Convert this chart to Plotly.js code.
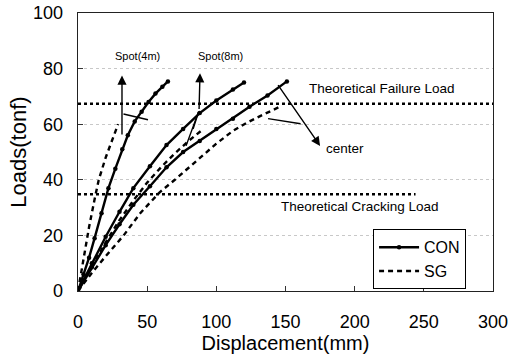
<!DOCTYPE html>
<html>
<head>
<meta charset="utf-8">
<script src="https://cdn.plot.ly/plotly-3.0.1.min.js"></script>
<style>html,body{margin:0;padding:0;background:#fff;}#chart{width:520px;height:354px;}</style>
</head>
<body>
<div id="chart"></div>
<script>
// Spot(4m)
const spot4ConX = [0, 4, 8, 12, 17, 22, 27, 32, 36, 41, 46, 51, 56, 61, 65];
const spot4ConY = [0, 6, 12, 19, 28, 37, 44, 51, 56, 61, 64.5, 68, 71, 73.5, 75.4];
const spot4SgX = [0, 4, 8, 12, 15, 20, 25, 29];
const spot4SgY = [0, 12, 23, 33, 40, 48, 55, 60];
// Spot(8m)
const spot8ConX = [0, 10, 20, 30, 40, 52, 64, 76, 88, 100, 112, 120];
const spot8ConY = [0, 10, 19.5, 28.5, 37, 44.9, 52.5, 58.3, 64, 68.5, 72.5, 75];
const spot8SgX = [0, 10, 20, 30, 40, 50, 60, 70, 80, 90];
const spot8SgY = [0, 9, 17.5, 25.5, 32.5, 39, 44.5, 49.5, 54, 58];
// center
const centerConX = [0, 10, 20, 30, 40, 52, 64, 76, 88, 100, 112, 124, 137, 151];
const centerConY = [0, 8.5, 16.5, 24, 31, 37.7, 44.5, 50, 54, 58.3, 62, 66.3, 70.3, 75.4];
const centerSgX = [0, 10, 20, 33, 45, 59, 70, 88, 100, 112, 122, 132, 146];
const centerSgY = [0, 6.5, 12.5, 20, 28, 35.5, 40, 48, 53, 57.6, 60.5, 63, 66.3];
// theoretical loads
const failureLoad = 67.4;
const failureRangeX = [0, 300];
const crackingLoad = 34.8;
const crackingRangeX = [0, 244];

const xTicks = [0, 50, 100, 150, 200, 250, 300];
const yTicks = [0, 20, 40, 60, 80, 100];

const conStyle = {mode: 'lines+markers', line: {color: '#000', width: 2.4}, marker: {color: '#000', size: 4.5}, legendgroup: 'con', name: 'CON'};
const sgStyle = {mode: 'lines', line: {color: '#000', width: 2.4, dash: '5px,4px'}, legendgroup: 'sg', name: 'SG'};

const traces = [
  Object.assign({x: spot4ConX, y: spot4ConY, showlegend: true}, conStyle),
  Object.assign({x: spot8ConX, y: spot8ConY, showlegend: false}, conStyle),
  Object.assign({x: centerConX, y: centerConY, showlegend: false}, conStyle),
  Object.assign({x: spot4SgX, y: spot4SgY, showlegend: true}, sgStyle),
  Object.assign({x: spot8SgX, y: spot8SgY, showlegend: false}, sgStyle),
  Object.assign({x: centerSgX, y: centerSgY, showlegend: false}, sgStyle),
  {x: failureRangeX, y: [failureLoad, failureLoad], mode: 'lines', line: {color: '#000', width: 2.5, dash: 'dot'}, showlegend: false, hoverinfo: 'skip'},
  {x: crackingRangeX, y: [crackingLoad, crackingLoad], mode: 'lines', line: {color: '#000', width: 2.5, dash: 'dot'}, showlegend: false, hoverinfo: 'skip'}
];

const annFont = {family: '"Liberation Sans", Arial, sans-serif', size: 13.5, color: '#000'};
const smallFont = {family: '"Liberation Sans", Arial, sans-serif', size: 11, color: '#000'};
function arrow(x, y, ax, ay, head) {
  return {x: x, y: y, ax: ax, ay: ay, xref: 'x', yref: 'y', axref: 'x', ayref: 'y', text: '', showarrow: true,
          arrowhead: head ? 2 : 0, arrowsize: 1.3, arrowwidth: 1.4, arrowcolor: '#000'};
}

const layout = {
  width: 520, height: 354,
  margin: {l: 78, r: 27, t: 13, b: 63},
  paper_bgcolor: '#fff', plot_bgcolor: '#fff',
  font: {family: '"Liberation Sans", Arial, sans-serif', color: '#000'},
  showlegend: true,
  legend: {x: 0.711, y: 0.222, xanchor: 'left', yanchor: 'top', bgcolor: '#fff', bordercolor: '#000', borderwidth: 1,
           font: {size: 16, family: '"Liberation Sans", Arial, sans-serif'}, tracegroupgap: 0, itemwidth: 40},
  xaxis: {range: [0, 300], tickvals: xTicks, ticks: 'inside', ticklen: 5, tickcolor: '#333',
          showline: true, linecolor: '#222', linewidth: 1.3, mirror: true, showgrid: false, zeroline: false,
          tickfont: {size: 18}, ticklabelstandoff: 14,
          title: {text: 'Displacement(mm)', font: {size: 20}, standoff: 0}},
  yaxis: {range: [0, 100], tickvals: yTicks, ticks: 'inside', ticklen: 5, tickcolor: '#333',
          showline: true, linecolor: '#222', linewidth: 1.3, mirror: true,
          showgrid: true, gridcolor: '#c8c8c8', griddash: 'dot', gridwidth: 1, zeroline: false,
          tickfont: {size: 18}, ticklabelstandoff: 10,
          title: {text: 'Loads(tonf)', font: {size: 22}, standoff: 0}},
  annotations: [
    {x: 42.7, y: 84.4, xref: 'x', yref: 'y', text: 'Spot(4m)', showarrow: false, font: smallFont},
    {x: 102.7, y: 84.4, xref: 'x', yref: 'y', text: 'Spot(8m)', showarrow: false, font: smallFont},
    {x: 219.8, y: 72.8, xref: 'x', yref: 'y', text: 'Theoretical Failure Load', showarrow: false, font: annFont},
    {x: 193, y: 51.1, xref: 'x', yref: 'y', text: 'center', showarrow: false, font: annFont},
    {x: 204, y: 30.4, xref: 'x', yref: 'y', text: 'Theoretical Cracking Load', showarrow: false, font: annFont},
    arrow(31.8, 77.5, 31.8, 55.8, true),
    arrow(50.6, 61.6, 31.8, 63.8, false),
    arrow(88.2, 78.3, 87.5, 64.9, true),
    arrow(78.1, 52.2, 87.5, 64.9, false),
    arrow(83.2, 58.3, 87.5, 64.9, false),
    arrow(175, 52.2, 143.9, 74.6, true),
    arrow(137.4, 62, 162, 60.1, false)
  ]
};

Plotly.newPlot('chart', traces, layout, {displayModeBar: false, staticPlot: true});
</script>
</body>
</html>
